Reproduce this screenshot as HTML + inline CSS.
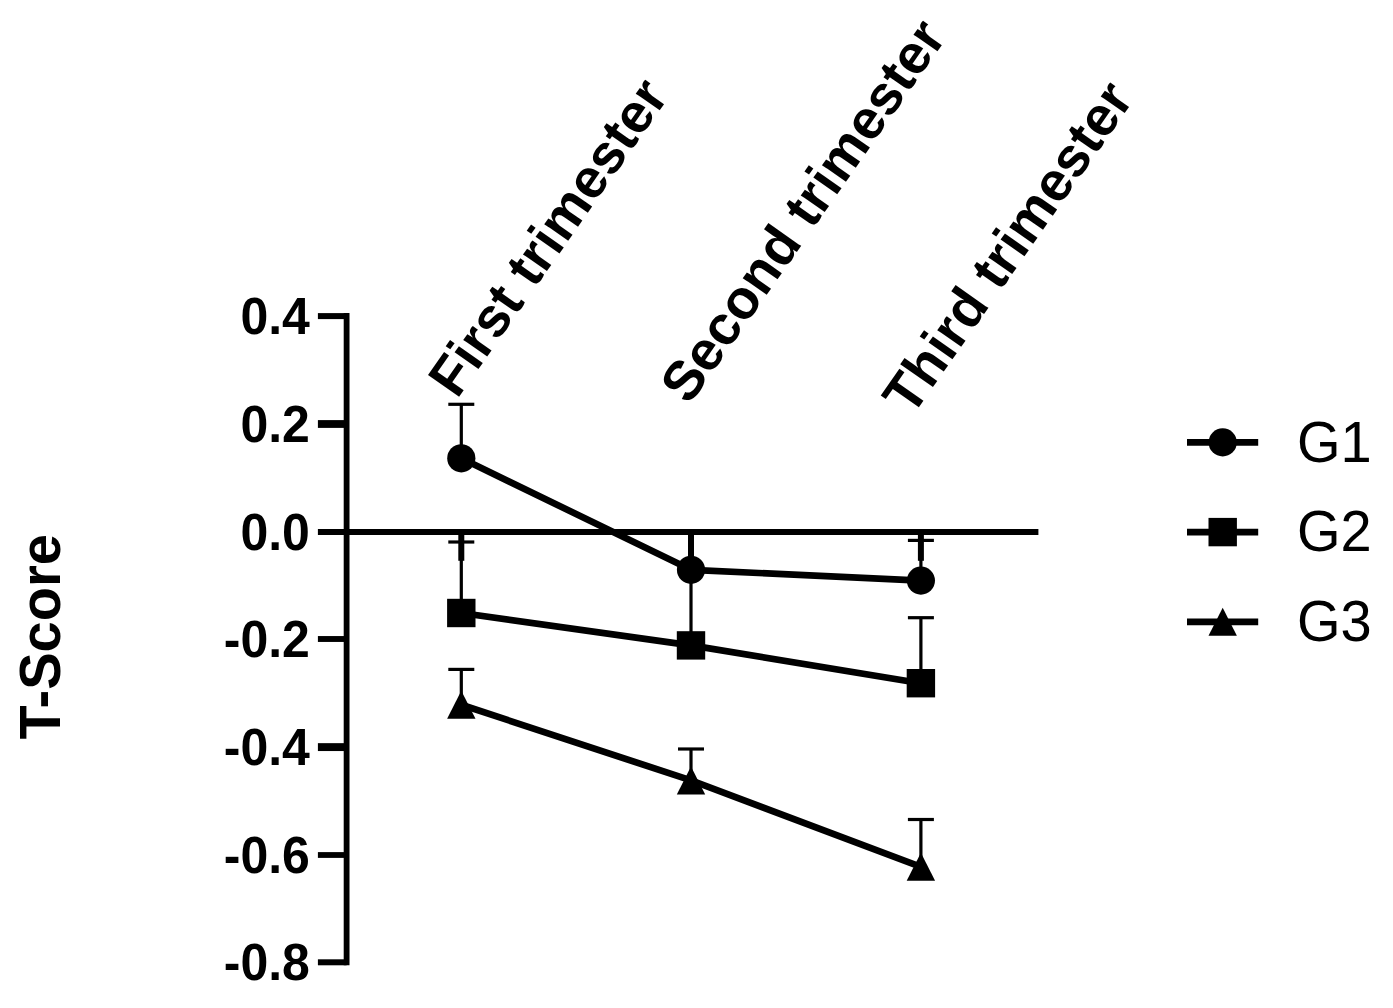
<!DOCTYPE html>
<html lang="en"><head><meta charset="utf-8"><title>T-Score by trimester</title>
<style>
html,body{margin:0;padding:0;background:#fff;}
body{width:1393px;height:1008px;overflow:hidden;}
svg{display:block;}
text{font-family:"Liberation Sans",Arial,Helvetica,sans-serif;fill:#000;}
.b{font-weight:bold;}
</style></head><body>
<svg width="1393" height="1008" viewBox="0 0 1393 1008">
<rect width="1393" height="1008" fill="#fff"/>

<g stroke="#000" stroke-width="6" fill="none" stroke-linecap="butt">
<line x1="346.6" y1="313.1" x2="346.6" y2="965.3" stroke-width="5.8"/>
<line x1="317.9" y1="316.1" x2="346.6" y2="316.1" stroke-width="6"/>
<line x1="317.9" y1="424.0" x2="346.6" y2="424.0" stroke-width="7.8"/>
<line x1="317.9" y1="639.0" x2="346.6" y2="639.0" stroke-width="5.9"/>
<line x1="317.9" y1="747.1" x2="346.6" y2="747.1" stroke-width="7.9"/>
<line x1="317.9" y1="855.0" x2="346.6" y2="855.0" stroke-width="5.8"/>
<line x1="317.9" y1="962.3" x2="346.6" y2="962.3" stroke-width="6"/>
<line x1="317.9" y1="532.05" x2="1038.4" y2="532.05"/>
<line x1="461.3" y1="532.05" x2="461.3" y2="560.8"/>
<line x1="691.0" y1="532.05" x2="691.0" y2="560.8"/>
<line x1="920.9" y1="532.05" x2="920.9" y2="560.8"/>
</g>
<g class="b" font-size="50" text-anchor="end">
<text transform="translate(309.9,333.8) scale(1,1.04)">0.4</text>
<text transform="translate(309.9,441.7) scale(1,1.04)">0.2</text>
<text transform="translate(309.9,549.8) scale(1,1.04)">0.0</text>
<text transform="translate(309.9,656.7) scale(1,1.04)">-0.2</text>
<text transform="translate(309.9,764.8) scale(1,1.04)">-0.4</text>
<text transform="translate(309.9,872.7) scale(1,1.04)">-0.6</text>
<text transform="translate(309.9,980.0) scale(1,1.04)">-0.8</text>
</g>
<g stroke="#000" stroke-width="3.2" fill="none">
<line x1="461.3" y1="458.3" x2="461.3" y2="404.3"/>
<line x1="448.3" y1="404.3" x2="474.3" y2="404.3"/>
<line x1="920.9" y1="580.6" x2="920.9" y2="540.4"/>
<line x1="907.9" y1="540.4" x2="933.9" y2="540.4"/>
<line x1="461.3" y1="613.0" x2="461.3" y2="542.0"/>
<line x1="448.3" y1="542.0" x2="474.3" y2="542.0"/>
<line x1="920.9" y1="683.2" x2="920.9" y2="617.7"/>
<line x1="907.9" y1="617.7" x2="933.9" y2="617.7"/>
<line x1="461.3" y1="704.8" x2="461.3" y2="669.4"/>
<line x1="448.3" y1="669.4" x2="474.3" y2="669.4"/>
<line x1="691.0" y1="780.4" x2="691.0" y2="749.0"/>
<line x1="678.0" y1="749.0" x2="704.0" y2="749.0"/>
<line x1="920.9" y1="866.8" x2="920.9" y2="819.5"/>
<line x1="907.9" y1="819.5" x2="933.9" y2="819.5"/>
<line x1="691.0" y1="645.4" x2="691.0" y2="569.8"/>
</g>
<g stroke="#000" stroke-width="6.7" fill="none" stroke-linejoin="round">
<polyline points="461.3,458.3 691.0,569.8 920.9,580.6"/>
<polyline points="461.3,613.0 691.0,645.4 920.9,683.2"/>
<polyline points="461.3,704.8 691.0,780.4 920.9,866.8"/>
</g>
<circle cx="461.3" cy="458.3" r="14.1"/>
<circle cx="691.0" cy="569.8" r="14.1"/>
<circle cx="920.9" cy="580.6" r="14.1"/>
<rect x="447.1" y="598.8" width="28.4" height="28.4"/>
<rect x="676.8" y="631.2" width="28.4" height="28.4"/>
<rect x="906.6999999999999" y="669.0" width="28.4" height="28.4"/>
<polygon points="461.3,690.8 475.5,718.8 447.1,718.8"/>
<polygon points="691.0,766.4 705.2,794.4 676.8,794.4"/>
<polygon points="920.9,852.8 935.1,880.8 906.6999999999999,880.8"/>
<text class="b" font-size="55.2" transform="translate(456.9,399.8) rotate(-55)">First trimester</text>
<text class="b" font-size="55.2" transform="translate(688.9,406.1) rotate(-55)">Second trimester</text>
<text class="b" font-size="55.2" transform="translate(911.5,417.8) rotate(-55)">Third trimester</text>
<text class="b" font-size="56" text-anchor="middle" transform="translate(59.8,636.8) rotate(-90) scale(1,1.04)">T-Score</text>
<line x1="1187" y1="442.4" x2="1258.2" y2="442.4" stroke="#000" stroke-width="6.7"/>
<circle cx="1222.7" cy="442.4" r="14.1"/>
<text font-size="56" transform="translate(1297.0,461.7) scale(1,1.012)">G1</text>
<line x1="1187" y1="532.1" x2="1258.2" y2="532.1" stroke="#000" stroke-width="6.7"/>
<rect x="1208.5" y="517.9" width="28.4" height="28.4"/>
<text font-size="56" transform="translate(1297.0,551.4) scale(1,1.012)">G2</text>
<line x1="1187" y1="621.8" x2="1258.2" y2="621.8" stroke="#000" stroke-width="6.7"/>
<polygon points="1222.7,607.8 1236.9,635.8 1208.5,635.8"/>
<text font-size="56" transform="translate(1297.0,641.1) scale(1,1.012)">G3</text>
</svg></body></html>
